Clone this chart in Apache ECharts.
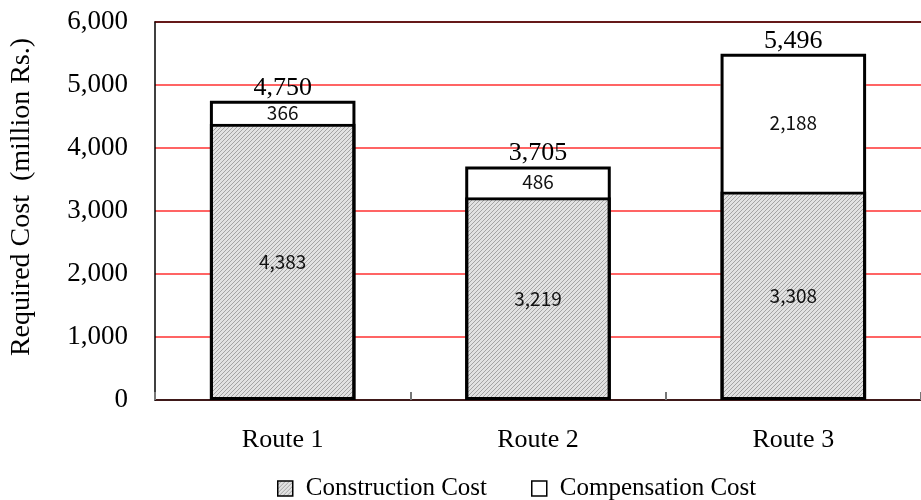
<!DOCTYPE html>
<html>
<head>
<meta charset="utf-8">
<script src="https://cdn.jsdelivr.net/npm/echarts@6/dist/echarts.min.js"></script>
<style>
  html, body { margin: 0; padding: 0; background: #fff; }
  #chart { width: 921px; height: 500px; }
</style>
</head>
<body>
<div id="chart"></div>
<script>
const routes = ['Route 1', 'Route 2', 'Route 3']
const construction = [4383, 3219, 3308]
const compensation = [366, 486, 2188]
const totals = [4750, 3705, 5496]
const yTicks = [0, 1000, 2000, 3000, 4000, 5000, 6000]

// hatched gray fill for construction cost
function hatch() {
  const c = document.createElement('canvas')
  c.width = 4
  c.height = 4
  const ctx = c.getContext('2d')
  ctx.fillStyle = '#e2e2e2'
  ctx.fillRect(0, 0, 4, 4)
  ctx.strokeStyle = '#a4a4a4'
  ctx.lineWidth = 1
  ctx.beginPath()
  ctx.moveTo(0, 4)
  ctx.lineTo(4, 0)
  ctx.moveTo(-1, 1)
  ctx.lineTo(1, -1)
  ctx.moveTo(3, 5)
  ctx.lineTo(5, 3)
  ctx.stroke()
  return { image: c, repeat: 'repeat' }
}

const fmt = v => Number(v).toLocaleString('en-US')
const serif = '"Liberation Serif", "Times New Roman", serif'
const sans = '"Noto Sans CJK JP", sans-serif'
const border = { borderColor: '#000', borderWidth: 1.5 }

const chart = echarts.init(document.getElementById('chart'))
chart.setOption({
  animation: false,
  grid: { left: 155, right: -8, top: 22, bottom: 100, containLabel: false },
  legend: {
    data: [
      { name: 'Construction Cost', itemStyle: border },
      { name: 'Compensation Cost', itemStyle: border }
    ],
    bottom: -6,
    left: 272,
    icon: 'rect',
    itemWidth: 15,
    itemHeight: 15,
    itemGap: 44,
    textStyle: { fontFamily: serif, fontSize: 25, color: '#000', padding: [0, 0, 0, 8] }
  },
  xAxis: [{
    type: 'category',
    data: routes,
    axisLine: { lineStyle: { color: '#000', width: 1.5 } },
    axisTick: { show: true, inside: true, length: 8, lineStyle: { color: '#777', width: 2 } },
    axisLabel: { fontFamily: serif, fontSize: 26, color: '#000', margin: 27 }
  }, {
    type: 'category',
    position: 'top',
    data: routes,
    axisLine: { show: true, lineStyle: { color: '#300', width: 1.5 } },
    axisTick: { show: false },
    axisLabel: { show: false }
  }],
  yAxis: {
    type: 'value',
    min: 0,
    max: 6000,
    interval: 1000,
    name: 'Required Cost  (million Rs.)',
    nameLocation: 'middle',
    nameGap: 119,
    nameTextStyle: { fontFamily: serif, fontSize: 28, color: '#000', padding: [0, 0, 0, 28] },
    axisLine: { show: true, lineStyle: { color: '#000', width: 1.5 } },
    axisTick: { show: false },
    axisLabel: {
      fontFamily: serif, fontSize: 27, color: '#000', margin: 27,
      formatter: v => yTicks.includes(v) ? fmt(v) : ''
    },
    splitLine: { lineStyle: { color: '#ff3030', width: 1.5 } }
  },
  series: [{
    name: 'Construction Cost',
    type: 'bar',
    stack: 'cost',
    barWidth: '57%',
    barGap: '-100%',
    data: construction,
    itemStyle: { color: hatch(), borderColor: '#000', borderWidth: 3 },
    label: {
      show: true, position: 'inside', formatter: p => fmt(p.value),
      fontFamily: sans, fontSize: 19, color: '#111'
    }
  }, {
    name: 'Compensation Cost',
    type: 'bar',
    stack: 'cost',
    data: compensation,
    itemStyle: { color: '#fff' },
    label: {
      show: true, position: 'inside', formatter: p => fmt(p.value),
      fontFamily: sans, fontSize: 19, color: '#111'
    }
  }, {
    name: 'Total',
    type: 'bar',
    stack: 'cost',
    data: totals.map(() => 0),
    itemStyle: { color: 'transparent' },
    label: {
      show: true, position: 'top', distance: 0,
      formatter: p => fmt(totals[p.dataIndex]),
      fontFamily: serif, fontSize: 26, color: '#000'
    }
  }, {
    // outer frame around the whole stacked bar
    name: 'Outline',
    type: 'bar',
    stack: 'outline',
    barWidth: '57%',
    barGap: '-100%',
    data: totals,
    silent: true,
    itemStyle: { color: 'transparent', borderColor: '#000', borderWidth: 3 }
  }]
})
</script>
</body>
</html>
